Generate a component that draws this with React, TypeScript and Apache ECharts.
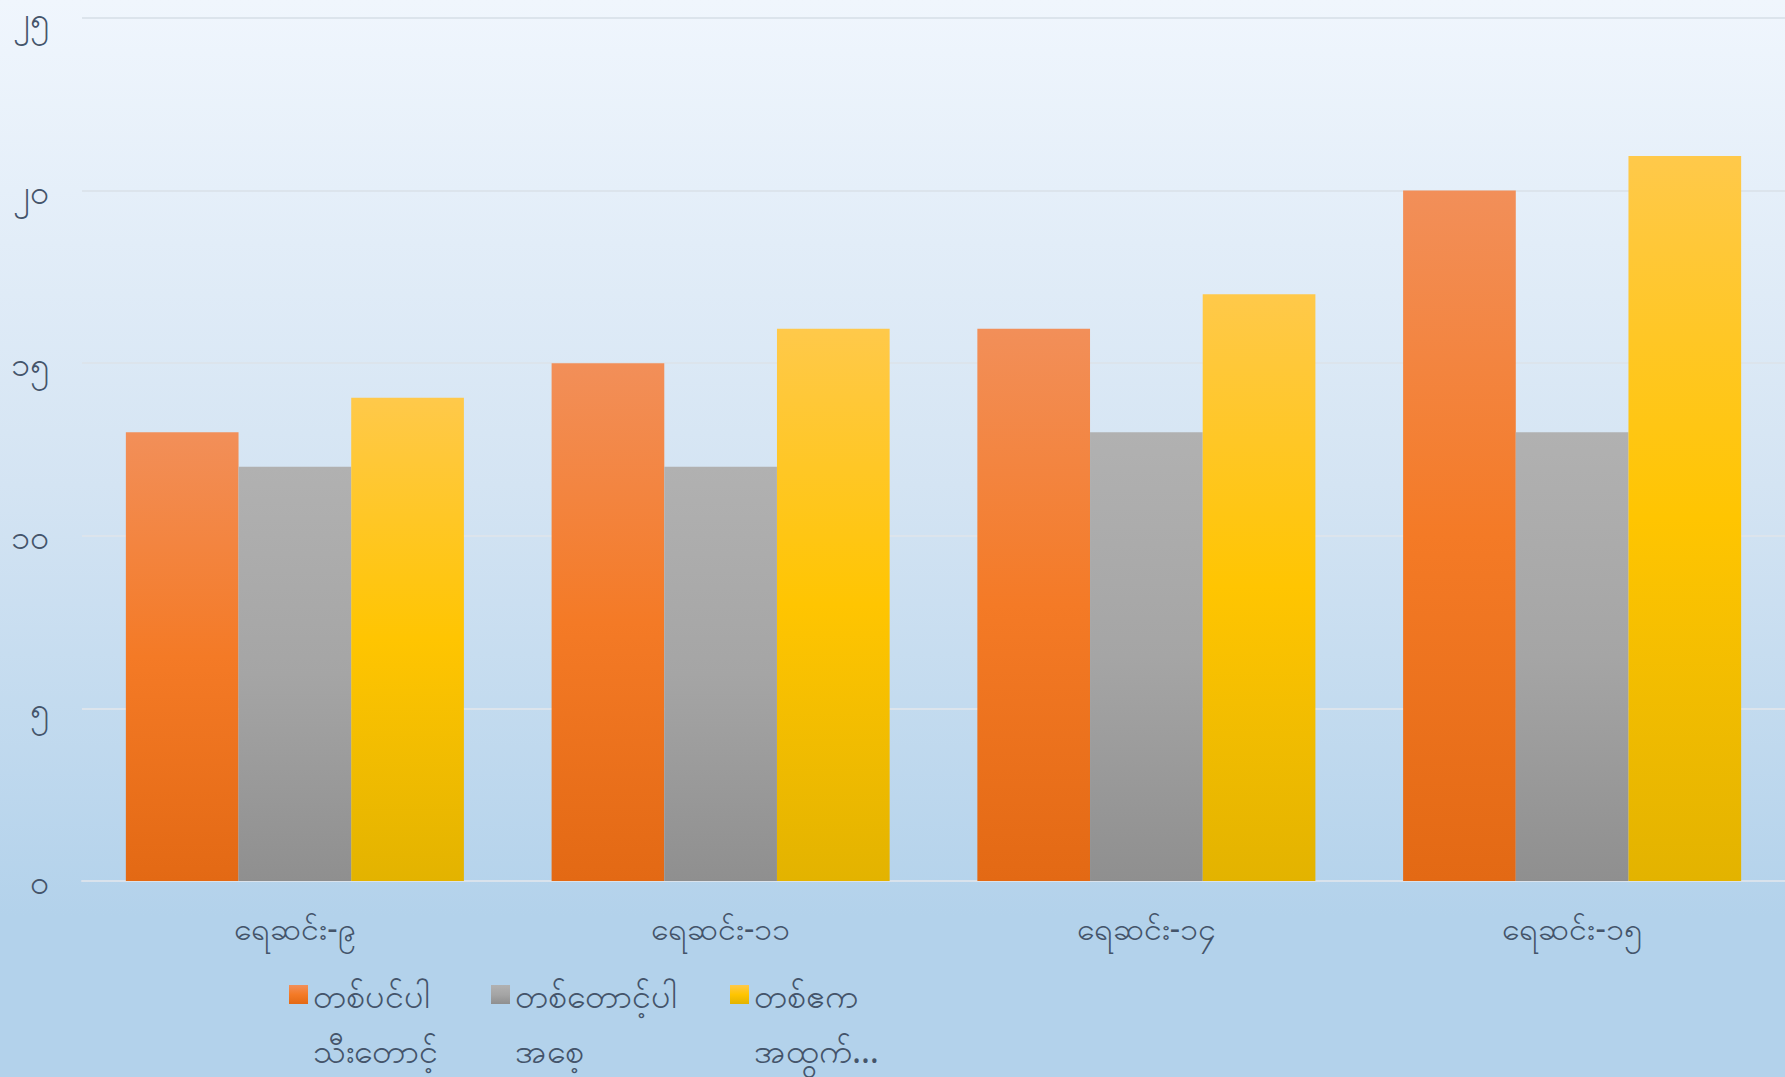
import React, { useEffect, useRef } from "react";
import * as echarts from "echarts";

const categories = ["ရေဆင်း-၉", "ရေဆင်း-၁၁", "ရေဆင်း-၁၄", "ရေဆင်း-၁၅"];
const seriesNames = ["တစ်ပင်ပါ\nသီးတောင့်", "တစ်တောင့်ပါ\nအစေ့", "တစ်ဧက\nအထွက်…"];
const podsPerPlant = [13, 15, 16, 20];
const seedsPerPod = [12, 12, 13, 13];
const yieldPerAcre = [14, 16, 17, 21];
const yTickValues = [0, 5, 10, 15, 20, 25];
const yTickLabels = ["၀", "၅", "၁၀", "၁၅", "၂၀", "၂၅"];

const FONT = "'Noto Sans', 'DejaVu Sans', sans-serif";
const TEXT = "#44546A";

const grad = (stops: string[]) =>
  new echarts.graphic.LinearGradient(0, 0, 0, 1, [
    { offset: 0, color: stops[0] },
    { offset: 0.5, color: stops[1] },
    { offset: 1, color: stops[2] },
  ]);

export default function App() {
  const ref = useRef<HTMLDivElement>(null);
  useEffect(() => {
    if (!ref.current) return;
    const chart = echarts.init(ref.current, null, { renderer: "svg" });
    const colors = [
      grad(["#F28F59", "#F47A26", "#E36914"]),
      grad(["#B1B1B1", "#A5A5A5", "#8F8F8F"]),
      grad(["#FFC94A", "#FFC501", "#E3B300"]),
    ];
    const data = [podsPerPlant, seedsPerPod, yieldPerAcre];
    chart.setOption({
      animation: false,
      backgroundColor: "transparent",
      textStyle: { fontFamily: FONT },
      grid: { left: 82, right: 0, top: 18, bottom: 196, containLabel: false },
      legend: {
        left: 284,
        top: 907,
        icon: "rect",
        itemWidth: 19,
        itemHeight: 19,
        itemGap: 53,
        selectedMode: false,
        data: seriesNames,
        // a leading blank line keeps the icon level with the first text line
        formatter: (name: string) => "\n" + name,
        textStyle: {
          color: TEXT,
          fontSize: 34,
          fontFamily: FONT,
          lineHeight: 55,
        },
      },
      xAxis: {
        type: "category",
        data: categories,
        axisLine: { show: true, lineStyle: { color: "#D9E2EC", width: 2 } },
        axisTick: { show: false },
        axisLabel: {
          color: TEXT,
          fontSize: 32,
          fontFamily: FONT,
          margin: 22,
          lineHeight: 48,
        },
      },
      yAxis: {
        type: "value",
        min: 0,
        max: 25,
        interval: 5,
        axisLine: { show: false },
        axisTick: { show: false },
        splitLine: { lineStyle: { color: "#DCE4EC", width: 2 } },
        axisLabel: {
          color: TEXT,
          fontSize: 34,
          fontFamily: FONT,
          margin: 32,
          lineHeight: 30,
          formatter: (v: number) => {
            const i = yTickValues.indexOf(v);
            return i >= 0 ? yTickLabels[i] : "";
          },
        },
      },
      series: seriesNames.map((name, i) => ({
        name,
        type: "bar",
        data: data[i],
        barGap: "0%",
        barCategoryGap: "20.6%",
        itemStyle: { color: colors[i] },
      })),
    });
    return () => chart.dispose();
  }, []);
  return (
    <div
      style={{
        position: "fixed",
        left: 0,
        top: 0,
        width: 1785,
        height: 1077,
        background: "linear-gradient(180deg, #F0F6FD 0%, #D4E4F3 45%, #B3D2EB 85%, #B3D2EB 100%)",
      }}
    >
      <div ref={ref} style={{ width: 1785, height: 1077 }} />
    </div>
  );
}
